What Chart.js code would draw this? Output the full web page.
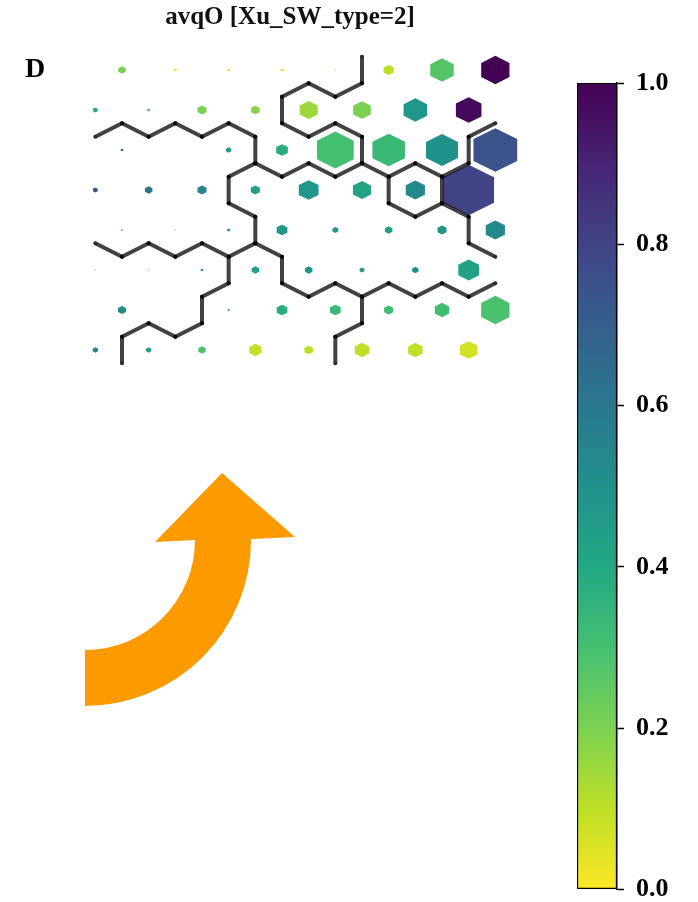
<!DOCTYPE html>
<html>
<head>
<meta charset="utf-8">
<script src="https://cdn.jsdelivr.net/npm/chart.js@4.4.1/dist/chart.umd.min.js"></script>
<style>
  html, body { margin: 0; padding: 0; background: #fff; }
  #wrap { position: relative; width: 698px; height: 902px; overflow: hidden; }
  #hex { position: absolute; left: 0; top: 0; }
  #cbar { position: absolute; left: 560px; top: 0; }
  #panel { position: absolute; left: 25px; top: 54px; font: bold 28px "Liberation Serif", serif; line-height: 1; color: #000; }
</style>
</head>
<body>
<div id="wrap">
  <canvas id="hex" width="580" height="902" style="width:580px;height:902px"></canvas>
  <canvas id="cbar" width="138" height="917" style="width:138px;height:917px"></canvas>
  <div id="panel">D</div>
</div>
<script>
const title = "avqO [Xu_SW_type=2]";

// colour value of each SOM cell (0 = yellow ... 1 = purple), one row per line
const cellValue = [
  [0.20, 0.05, 0.05, 0.05, 0.05, 0.10, 0.27, 1.00],
  [0.38, 0.25, 0.20, 0.18, 0.15, 0.20, 0.48, 0.98],
  [0.60, 0.50, 0.45, 0.38, 0.30, 0.33, 0.50, 0.75],
  [0.72, 0.60, 0.55, 0.43, 0.48, 0.42, 0.53, 0.80],
  [0.50, 0.50, 0.42, 0.47, 0.47, 0.45, 0.48, 0.53],
  [0.50, 0.50, 0.45, 0.43, 0.48, 0.47, 0.50, 0.43],
  [0.52, 0.50, 0.45, 0.38, 0.33, 0.32, 0.31, 0.29],
  [0.55, 0.43, 0.28, 0.09, 0.10, 0.10, 0.10, 0.07],
];

// relative hexagon size of each cell (1 = full cell)
const cellSize = [
  [0.14, 0.05, 0.05, 0.05, 0.03, 0.19, 0.44, 0.53],
  [0.09, 0.06, 0.17, 0.16, 0.34, 0.33, 0.44, 0.48],
  [0.05, 0.00, 0.10, 0.22, 0.69, 0.61, 0.60, 0.82],
  [0.09, 0.14, 0.17, 0.17, 0.37, 0.34, 0.36, 0.95],
  [0.03, 0.02, 0.06, 0.20, 0.11, 0.14, 0.17, 0.36],
  [0.02, 0.02, 0.05, 0.14, 0.14, 0.09, 0.12, 0.39],
  [0.15, 0.00, 0.04, 0.20, 0.20, 0.17, 0.27, 0.53],
  [0.10, 0.10, 0.14, 0.23, 0.16, 0.27, 0.27, 0.33],
];

// cluster borders, as pairs of neighbouring cells [row1, col1, row2, col2]
const boundaryEdges = [
  [1,0,2,0], [1,1,2,0], [1,1,2,1], [1,2,2,1], [1,2,2,2], [1,3,2,2],
  [2,2,2,3], [2,2,3,3], [2,3,3,3], [2,3,3,4], [3,2,3,3], [3,3,4,2],
  [4,2,4,3], [4,2,5,3], [4,3,5,3],
  [4,0,5,0], [4,0,5,1], [4,1,5,1], [4,1,5,2], [4,2,5,2], [5,2,5,3],
  [5,2,6,2], [6,1,6,2], [6,1,7,2], [6,1,7,1], [6,0,7,1], [7,0,7,1],
  [5,3,5,4], [5,4,6,3], [5,4,6,4], [5,5,6,4], [5,5,6,5], [5,6,6,5],
  [5,6,6,6], [5,7,6,6], [5,7,6,7], [6,4,6,5], [6,4,7,5], [7,4,7,5],
  [0,4,0,5], [0,4,1,5], [0,4,1,4], [0,3,1,4], [1,3,1,4], [1,4,2,3],
  [1,4,2,4], [1,5,2,4], [2,4,2,5], [2,4,3,5], [2,4,3,4], [2,5,3,5],
  [2,5,3,6], [2,6,3,6], [2,6,3,7], [2,6,2,7], [1,7,2,7],
  [3,5,3,6], [3,6,4,5], [3,6,4,6], [3,6,3,7], [3,7,4,6], [4,6,4,7], [4,7,5,7],
];

// colour bar ticks
const cbTicks = [0.0, 0.2, 0.4, 0.6, 0.8, 1.0];

// viridis, sampled every 0.1
const viridisStops = ["#440154", "#482475", "#414487", "#355f8d", "#2a788e", "#21918c",
                      "#22a884", "#44bf70", "#7ad151", "#bddf26", "#fde725"];

function hexToRgb(h) {
  return [1, 3, 5].map((i) => parseInt(h.slice(i, i + 2), 16));
}

// reversed viridis: 0 -> yellow, 1 -> purple
function viridisR(v) {
  const t = Math.min(1, Math.max(0, 1 - v)) * 10;
  const i = Math.min(9, Math.floor(t));
  const f = t - i;
  const a = hexToRgb(viridisStops[i]);
  const b = hexToRgb(viridisStops[i + 1]);
  const c = a.map((x, k) => Math.round(x + (b[k] - x) * f));
  return `rgb(${c[0]},${c[1]},${c[2]})`;
}

// pointy-top hexagon corners in data units (x = column, y = row)
const hexOffsets = [[0, -2 / 3], [0.5, -1 / 3], [0.5, 1 / 3], [0, 2 / 3], [-0.5, 1 / 3], [-0.5, -1 / 3]];

function hexCenter(r, c) {
  return { x: c + (r % 2 === 0 ? 0.5 : 0), y: r };
}

function sharedEdge(r1, c1, r2, c2) {
  const a = hexCenter(r1, c1);
  const b = hexCenter(r2, c2);
  return hexOffsets
    .map(([dx, dy]) => ({ x: a.x + dx, y: a.y + dy }))
    .filter((p) => hexOffsets.some(([dx, dy]) =>
      Math.abs(b.x + dx - p.x) < 1e-6 && Math.abs(b.y + dy - p.y) < 1e-6));
}

const cellPoints = [];
cellValue.forEach((row, r) => {
  row.forEach((v, c) => {
    const p = hexCenter(r, c);
    cellPoints.push({ x: p.x, y: p.y, v: v, s: cellSize[r][c] });
  });
});

const edgeSets = boundaryEdges.map((e) => ({
  data: sharedEdge(...e),
  showLine: true,
  borderColor: "rgba(0,0,0,0.74)",
  borderWidth: 4,
  borderCapStyle: "round",
  pointRadius: 2,
  pointBorderWidth: 0,
  pointBackgroundColor: "rgba(0,0,0,0.35)",
}));

// draws every cell as a hexagon scaled by its size
const hexCells = {
  id: "hexCells",
  beforeDatasetsDraw(chart) {
    const { ctx } = chart;
    const x = chart.scales.x;
    const y = chart.scales.y;
    ctx.save();
    chart.data.datasets[0].data.forEach((p) => {
      if (p.s <= 0) return;
      ctx.beginPath();
      hexOffsets.forEach(([dx, dy], i) => {
        const px = x.getPixelForValue(p.x + dx * p.s);
        const py = y.getPixelForValue(p.y + dy * p.s);
        if (i === 0) ctx.moveTo(px, py);
        else ctx.lineTo(px, py);
      });
      ctx.closePath();
      ctx.fillStyle = viridisR(p.v);
      ctx.fill();
    });
    ctx.restore();
  },
};

// orange curved arrow below the map
const arrow = {
  id: "arrow",
  afterDraw(chart) {
    const ctx = chart.ctx;
    const cx = 85, cy = 540;
    ctx.save();
    ctx.fillStyle = "#fd9a00";
    ctx.beginPath();
    ctx.moveTo(155, 542);
    ctx.lineTo(222, 473);
    ctx.lineTo(295, 537);
    ctx.lineTo(251, 539);
    ctx.arc(cx, cy, 166, 0, Math.PI / 2, false);
    ctx.lineTo(cx, cy + 110);
    ctx.arc(cx, cy, 110, Math.PI / 2, 0, true);
    ctx.closePath();
    ctx.fill();
    ctx.restore();
  },
};

new Chart(document.getElementById("hex"), {
  type: "scatter",
  data: {
    datasets: [{ data: cellPoints, pointRadius: 0 }, ...edgeSets],
  },
  options: {
    responsive: false,
    animation: false,
    events: [],
    layout: { padding: { left: 50, right: 50, top: 0, bottom: 502 } },
    plugins: {
      legend: { display: false },
      tooltip: { enabled: false },
      title: {
        display: true,
        text: title,
        color: "#111",
        font: { family: '"Liberation Serif", serif', weight: "bold", size: 25, lineHeight: 1.2 },
        padding: { top: 3, bottom: 7 },
      },
    },
    scales: {
      x: { type: "linear", min: -0.85, max: 8.15, display: false },
      y: { type: "linear", min: -0.75, max: 8.25, reverse: true, display: false },
    },
  },
  plugins: [hexCells, arrow],
});

new Chart(document.getElementById("cbar"), {
  type: "bar",
  data: {
    labels: [""],
    datasets: [{
      data: [1],
      backgroundColor: (c) => {
        const area = c.chart.chartArea;
        if (!area) return null;
        const g = c.chart.ctx.createLinearGradient(0, area.bottom, 0, area.top);
        viridisStops.forEach((_, i) => g.addColorStop(i / 10, viridisR(i / 10)));
        return g;
      },
      borderColor: "#000",
      borderWidth: 1.5,
      borderSkipped: false,
      barPercentage: 1,
      categoryPercentage: 1,
    }],
  },
  options: {
    responsive: false,
    animation: false,
    events: [],
    layout: { padding: { left: 17, right: 0, top: 83, bottom: 14 } },
    plugins: { legend: { display: false }, tooltip: { enabled: false } },
    scales: {
      x: { display: false },
      y: {
        position: "right",
        min: 0,
        max: 1,
        afterFit: (s) => { s.width = 81; },
        afterBuildTicks: (s) => { s.ticks = cbTicks.map((v) => ({ value: v })); },
        ticks: {
          callback: (v) => Number(v).toFixed(1),
          color: "#000",
          padding: 12,
          font: { family: '"Liberation Serif", serif', weight: "bold", size: 26 },
        },
        grid: { drawOnChartArea: false, tickLength: 7, tickColor: "#000", tickWidth: 1.5 },
        border: { display: true, color: "#000", width: 1.5 },
      },
    },
  },
});
</script>
</body>
</html>
